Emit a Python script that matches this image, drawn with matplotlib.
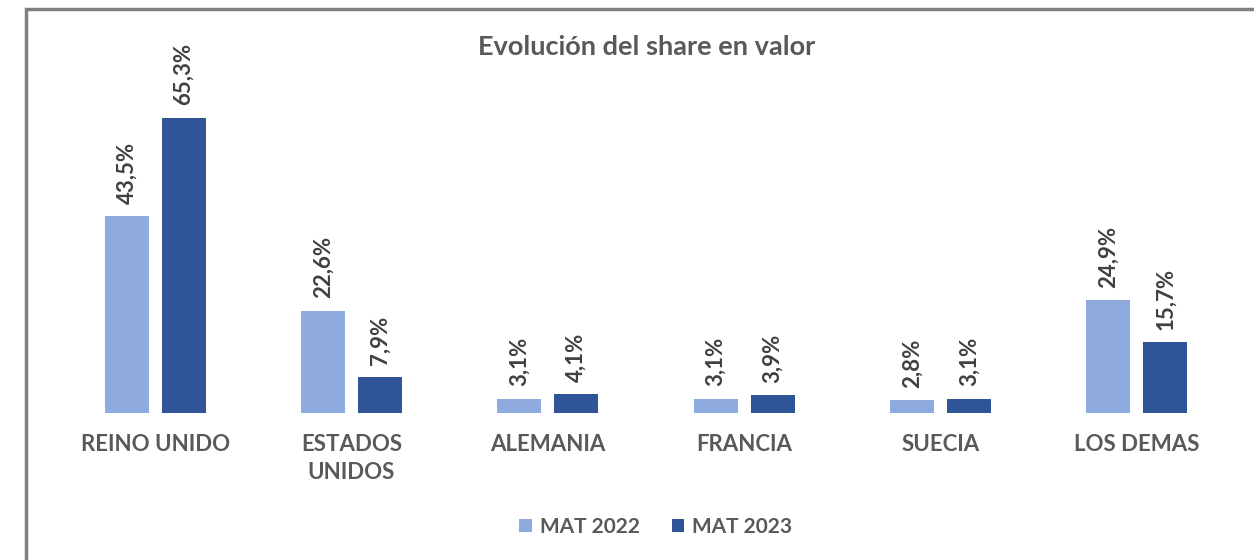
import numpy as np
import matplotlib.pyplot as plt
from matplotlib.patches import Rectangle

# data
categories = ['REINO UNIDO', 'ESTADOS\nUNIDOS', 'ALEMANIA', 'FRANCIA', 'SUECIA', 'LOS DEMAS']
mat_2022 = [43.5, 22.6, 3.1, 3.1, 2.8, 24.9]
mat_2023 = [65.3, 7.9, 4.1, 3.9, 3.1, 15.7]
series_names = ['MAT 2022', 'MAT 2023']

light = '#8FAADC'
dark = '#2F5597'
txt = '#595959'

plt.rcParams['font.family'] = ['Lato', 'DejaVu Sans']

fig = plt.figure(figsize=(12.54, 5.6), dpi=100)
ax = fig.add_axes([57 / 1254, (560 - 413) / 560, (1235 - 57) / 1254, 80 * 4.52 / 560])

x = np.arange(len(categories))
w = 0.224
off = 0.145
b1 = ax.bar(x - off, mat_2022, w, color=light, label=series_names[0])
b2 = ax.bar(x + off, mat_2023, w, color=dark, label=series_names[1])

# rotated value labels above each bar
for bars, vals in [(b1, mat_2022), (b2, mat_2023)]:
    for r, v in zip(bars, vals):
        ax.annotate(f'{v:.1f}%'.replace('.', ','),
                    (r.get_x() + r.get_width() / 2, r.get_height()),
                    xytext=(0, 9), textcoords='offset points',
                    rotation=90, ha='center', va='bottom',
                    fontsize=16, fontweight='bold', color='#404040')

ax.set_xlim(-0.5, len(categories) - 0.5)
ax.set_ylim(0, 80)
ax.set_xticks(x)
ax.set_xticklabels(categories, fontsize=16, fontweight='bold', color=txt, linespacing=1.45)
ax.tick_params(axis='x', length=0, pad=15)
ax.set_yticks([])
for s in ax.spines.values():
    s.set_visible(False)

fig.text(647 / 1254, 1 - 47 / 560, 'Evolución del share en valor', ha='center', va='center',
         fontsize=19.5, fontweight='bold', color=txt)

leg = fig.legend(handles=[b1, b2], loc='center', bbox_to_anchor=(656 / 1254, 1 - 527 / 560),
                 ncol=2, frameon=False, fontsize=15, handlelength=0.6, handleheight=0.6,
                 columnspacing=1.5, handletextpad=0.4)
for t in leg.get_texts():
    t.set_color(txt)
    t.set_fontweight('bold')

# outer frame of the chart area
fig.patches.append(Rectangle((26 / 1254, -0.1), 1.2, 1 - 9 / 560 + 0.1, transform=fig.transFigure,
                             fill=False, edgecolor='#808080', linewidth=2.5))

fig.savefig('out.png', dpi=100)
